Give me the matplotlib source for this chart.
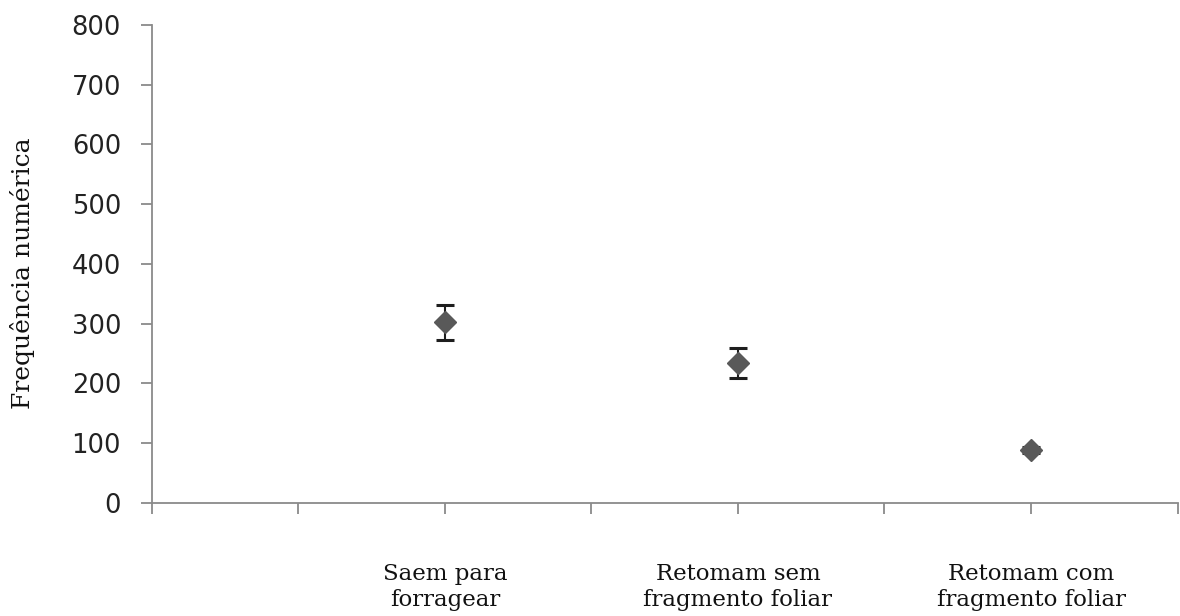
import matplotlib
matplotlib.use('Agg')
import matplotlib.pyplot as plt

# dados
categorias = ['Saem para\nforragear', 'Retomam sem\nfragmento foliar', 'Retomam com\nfragmento foliar']
posicoes = [2, 4, 6]
medias = [302, 234, 88]
erros = [29, 25, 5]
y_ticks = [0, 100, 200, 300, 400, 500, 600, 700, 800]

fig = plt.figure(figsize=(11.8, 6.16), dpi=100)
ax = fig.add_axes([0.1285, 0.184, 0.8695, 0.7754])

ax.errorbar(posicoes, medias, yerr=erros, fmt='D', color='#595959', markersize=11,
            markeredgecolor='#595959', ecolor='#1e1e1e', elinewidth=1.5,
            capsize=6.5, capthick=2.2, zorder=3)

ax.set_xlim(0, 7)
ax.set_ylim(0, 800)
ax.set_yticks(y_ticks)
ax.set_xticks(range(0, 8))
ax.set_xticklabels([])

# rotulos das categorias bem abaixo do eixo
for x, nome in zip(posicoes, categorias):
    ax.text(x, -0.126, nome, transform=ax.get_xaxis_transform(), ha='center', va='top',
            fontsize=16.5, family='DejaVu Serif', linespacing=1.25, color='#111111',
            clip_on=False)

for s in ['top', 'right']:
    ax.spines[s].set_visible(False)
for s in ['left', 'bottom']:
    ax.spines[s].set_color('#8a8a8a')
    ax.spines[s].set_linewidth(1.3)

ax.tick_params(axis='both', which='major', direction='out', length=8, width=1.3,
               color='#8a8a8a')
ax.tick_params(axis='y', labelsize=18.5, pad=14, labelcolor='#222222')

fig.text(0.019, 0.556, 'Frequência numérica', rotation=90, ha='center', va='center',
         fontsize=18, family='DejaVu Serif', color='#111111')

fig.savefig('out.png', dpi=100)
